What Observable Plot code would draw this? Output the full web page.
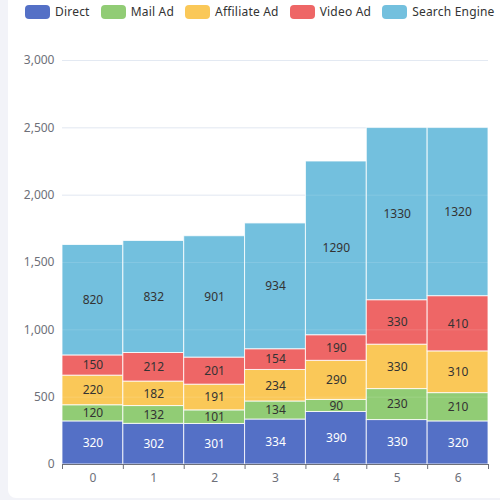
<!DOCTYPE html>
<html>
<head>
<meta charset="utf-8">
<script src="https://cdn.jsdelivr.net/npm/d3@7"></script>
<script src="https://cdn.jsdelivr.net/npm/@observablehq/plot@0.6"></script>
<style>
  html, body { margin: 0; padding: 0; width: 500px; height: 500px; overflow: hidden; background: #f2f3f8; font-family: "Noto Sans", sans-serif; }
  #card { position: absolute; left: 8px; top: -8px; width: 500px; height: 506px; background: #fff; border-radius: 8px; }
  #legend { position: absolute; left: 25px; top: 3px; display: flex; align-items: center; font-size: 12px; color: #333; white-space: nowrap; letter-spacing: 0.2px; }
  .item { display: flex; align-items: center; margin-right: 11px; }
  .sw { width: 25px; height: 14px; border-radius: 4px; margin-right: 5px; }
  #chart { position: absolute; left: 0; top: 0; }
</style>
</head>
<body>
<div id="card"></div>
<div id="chart"></div>
<div id="legend"></div>
<script>
const categories = ["0", "1", "2", "3", "4", "5", "6"];
const seriesNames = ["Direct", "Mail Ad", "Affiliate Ad", "Video Ad", "Search Engine"];
const direct = [320, 302, 301, 334, 390, 330, 320];
const mailAd = [120, 132, 101, 134, 90, 230, 210];
const affiliateAd = [220, 182, 191, 234, 290, 330, 310];
const videoAd = [150, 212, 201, 154, 190, 330, 410];
const searchEngine = [820, 832, 901, 934, 1290, 1330, 1320];
const yTicks = [0, 500, 1000, 1500, 2000, 2500, 3000];
const yMax = 3000;
const barCap = 2500; // bars in the reference are cut off at this value
const colors = ["#5470c6", "#91cc75", "#fac858", "#ee6666", "#73c0de"];

const seriesValues = [direct, mailAd, affiliateAd, videoAd, searchEngine];
const rows = [];
categories.forEach((c, i) => {
  let cum = 0;
  seriesNames.forEach((s, k) => {
    const v = seriesValues[k][i];
    const y1 = cum, y2 = cum + v;
    cum = y2;
    rows.push({i, cat: c, series: s, value: v, y1: Math.min(y1, barCap), y2: Math.min(y2, barCap)});
  });
});

const legend = document.getElementById("legend");
seriesNames.forEach((s, k) => {
  const it = document.createElement("div");
  it.className = "item";
  it.innerHTML = `<div class="sw" style="background:${colors[k]}"></div><span>${s}</span>`;
  legend.appendChild(it);
});

const bounds = d3.range(categories.length + 1).map(j => j - 0.5);
const centers = d3.range(categories.length);

const chart = Plot.plot({
  width: 500,
  height: 500,
  marginTop: 60,
  marginBottom: 36,
  marginLeft: 62,
  marginRight: 12,
  style: {background: "transparent", fontFamily: "'Noto Sans', sans-serif", fontSize: "12px", color: "#6e7079"},
  x: {domain: [-0.5, categories.length - 0.5]},
  y: {domain: [0, yMax]},
  color: {domain: seriesNames, range: colors},
  marks: [
    Plot.gridY(yTicks.filter(t => t > 0), {stroke: "#e0e6f1", strokeOpacity: 1}),
    Plot.rectY(rows, {x1: d => d.i - 0.5, x2: d => d.i + 0.5, y1: "y1", y2: "y2", fill: "series", stroke: "#fff", strokeWidth: 1, strokeOpacity: 0.8}),
    Plot.gridY(yTicks.filter(t => t > 0), {stroke: "#ffffff", strokeOpacity: 0.12}),
    Plot.text(rows.filter(d => d.series === "Direct"), {x: "i", y: d => (d.y1 + d.y2) / 2, text: d => String(d.value), fill: "#fff", fontSize: 12}),
    Plot.text(rows.filter(d => d.series !== "Direct"), {x: "i", y: d => (d.y1 + d.y2) / 2, text: d => String(d.value), fill: "#333", fontSize: 12}),
    Plot.ruleY([0], {stroke: "#6e7079"}),
    Plot.axisX({ticks: bounds, tickSize: 5, tickFormat: () => "", stroke: "#6e7079", label: null}),
    Plot.axisX({ticks: centers, tickSize: 0, tickPadding: 9, tickFormat: i => categories[i], fill: "#6e7079", label: null}),
    Plot.axisY({ticks: yTicks, tickSize: 0, tickPadding: 8, tickFormat: d3.format(","), fill: "#6e7079", label: null})
  ]
});
document.getElementById("chart").appendChild(chart);
</script>
</body>
</html>
